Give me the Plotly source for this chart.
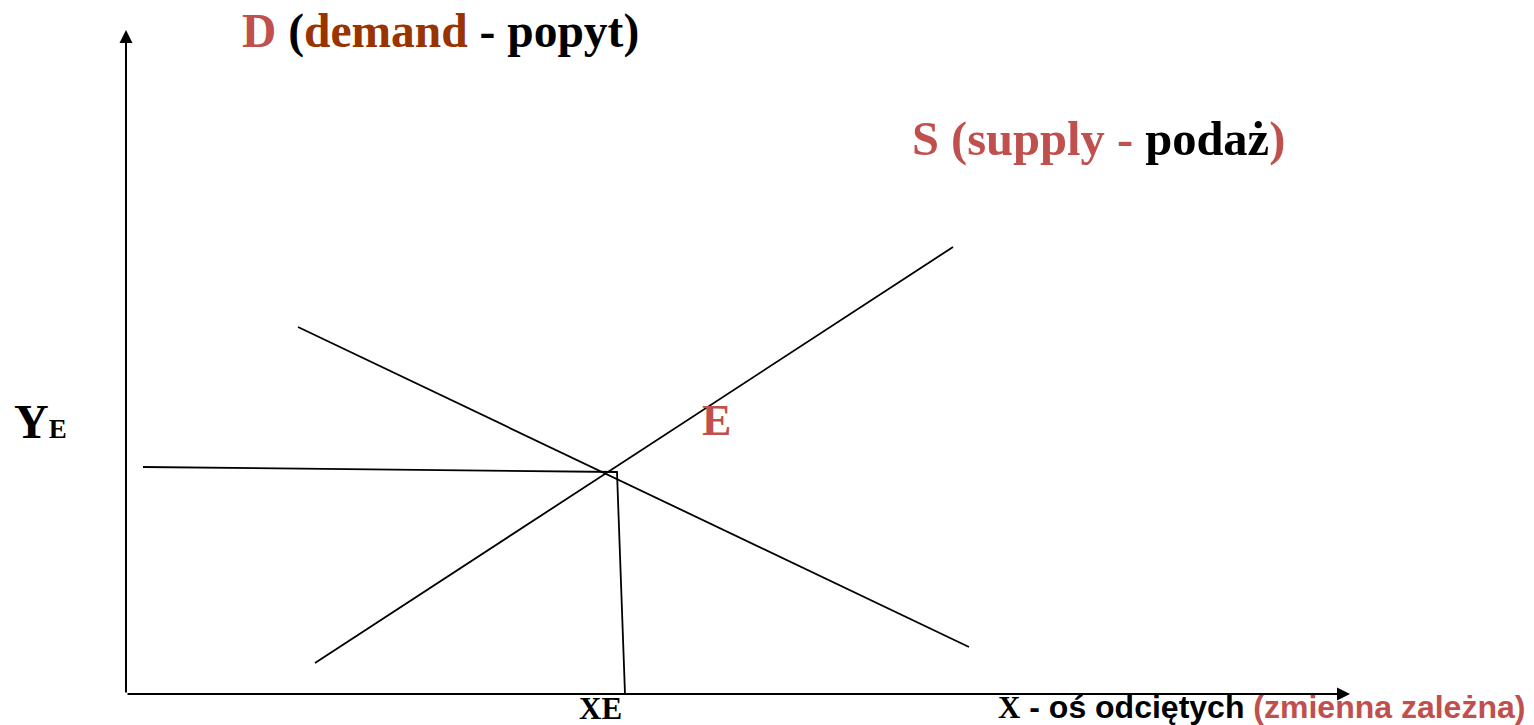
import plotly.graph_objects as go

# diagram drawn in page pixels (x to the right, y downwards)
W, H = 1534, 725

# curves
supply_x = [315, 953]
supply_y = [663, 247]
demand_x = [298, 969]
demand_y = [327, 647]

# dropped guide lines from the equilibrium point
guide_x = [143, 617, 625]
guide_y = [467, 472, 694]

# axes (origin and arrow tips)
origin = (126, 694)
y_tip = (126, 30)
x_tip = (1350, 694)

RED = '#C0504D'
BROWN = '#993300'
SERIF = 'Liberation Serif, Times New Roman, serif'
SANS = 'Liberation Sans, Arial, sans-serif'

fig = go.Figure()
line = dict(color='black', width=1.8)
fig.add_trace(go.Scatter(x=supply_x, y=supply_y, mode='lines', line=line, hoverinfo='skip'))
fig.add_trace(go.Scatter(x=demand_x, y=demand_y, mode='lines', line=line, hoverinfo='skip'))
fig.add_trace(go.Scatter(x=guide_x, y=guide_y, mode='lines', line=line, hoverinfo='skip'))

annotations = []
# axis arrows
for tip in (y_tip, x_tip):
    annotations.append(dict(
        x=tip[0], y=tip[1], ax=origin[0], ay=origin[1],
        xref='x', yref='y', axref='x', ayref='y',
        text='', showarrow=True, arrowhead=2, arrowsize=1.3,
        arrowwidth=2, arrowcolor='black', standoff=0, startstandoff=0,
    ))

def label(x, y, text, font, size, color='black', xanchor='left', yanchor='middle'):
    annotations.append(dict(
        x=x, y=y, xref='x', yref='y', text=text, showarrow=False,
        xanchor=xanchor, yanchor=yanchor,
        font=dict(family=font, size=size, color=color),
    ))

label(240, 31, f'<b><span style="color:{RED}">D</span> (<span style="color:{BROWN}">demand</span> - popyt)</b>',
      SERIF, 47.5)
label(910, 139, f'<b><span style="color:{RED}">S (supply - </span>podaż<span style="color:{RED}">)</span></b>',
      SERIF, 48.5)
label(700, 420, '<b>E</b>', SERIF, 44, RED)
label(12, 421, '<b>Y<span style="font-size:27px">E</span></b>', SERIF, 48)
label(600, 708, '<b>XE</b>', SERIF, 31, xanchor='center')
label(996, 707, f'<b><span style="font-family:{SERIF};font-size:31px">X</span> - oś odciętych '
      f'<span style="color:{RED}">(zmienna zależna)</span></b>', SANS, 32)

fig.update_layout(
    width=W, height=H,
    margin=dict(l=0, r=0, t=0, b=0),
    paper_bgcolor='white', plot_bgcolor='white',
    showlegend=False,
    annotations=annotations,
    xaxis=dict(range=[0, W], visible=False, fixedrange=True),
    yaxis=dict(range=[H, 0], visible=False, fixedrange=True),
)

fig.write_html('out.html', config={'displayModeBar': False},
               post_script="document.body.style.margin='0';document.body.style.overflow='hidden';")
